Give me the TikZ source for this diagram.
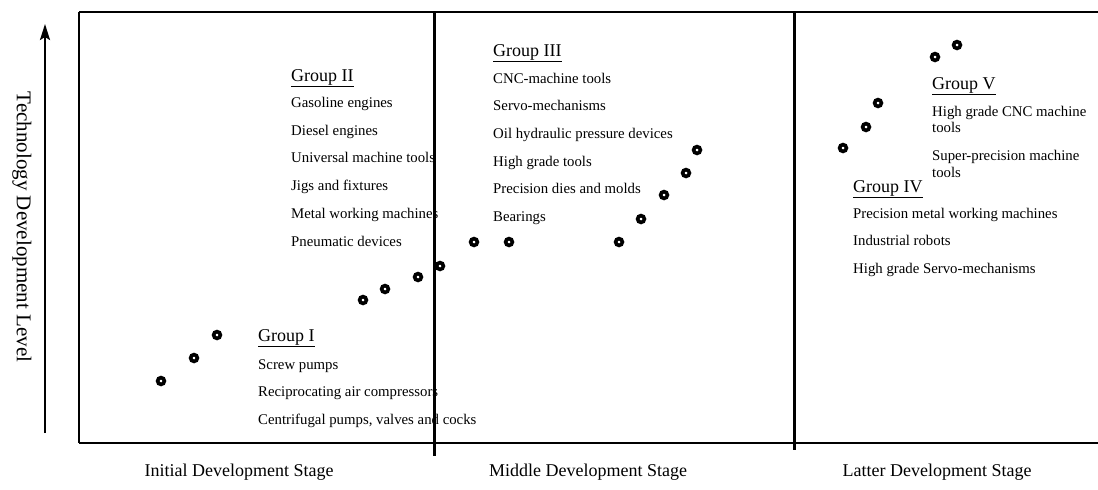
\documentclass[tikz,border=0pt]{standalone}
\usepackage{fontspec}
\setmainfont{Liberation Serif}
\usetikzlibrary{arrows.meta}
\begin{document}
\begin{tikzpicture}[x=1pt,y=-1pt,
  dot/.style={circle,draw=black,fill=white,line width=3.6pt,minimum size=6.8pt,inner sep=0pt},
  item/.style={anchor=base west,inner sep=0pt,font=\fontsize{14.8}{16}\selectfont},
  head/.style={anchor=base west,inner sep=0pt,font=\fontsize{18}{20}\selectfont},
  stage/.style={anchor=base,inner sep=0pt,font=\fontsize{18}{20}\selectfont},
  axislabel/.style={inner sep=0pt,rotate=-90,font=\fontsize{21}{24}\selectfont},
  frametop/.style={line width=1.2pt},
  frameleft/.style={line width=2.5pt},
  divider/.style={line width=3pt},
  axisarrow/.style={line width=2.2pt,-{Stealth[length=16pt,width=10pt,inset=3pt]}}]
\useasboundingbox (0,0) rectangle (1098,490);

% Group I
\node[head] (g1h) at (258,341) {\underline{Group I}};
\node[item] (g1a) at (258,369) {Screw pumps};
\node[item] (g1b) at (258,396) {Reciprocating air compressors};
\node[item] (g1c) at (258,424) {Centrifugal pumps, valves and cocks};

% Group II
\node[head] (g2h) at (291,81) {\underline{Group II}};
\node[item] (g2a) at (291,107.5) {Gasoline engines};
\node[item] (g2b) at (291,135.2) {Diesel engines};
\node[item] (g2c) at (291,162.9) {Universal machine tools};
\node[item] (g2d) at (291,190.6) {Jigs and fixtures};
\node[item] (g2e) at (291,218.3) {Metal working machines};
\node[item] (g2f) at (291,246) {Pneumatic devices};

% Group III
\node[head] (g3h) at (493,56) {\underline{Group III}};
\node[item] (g3a) at (493,83) {CNC-machine tools};
\node[item] (g3b) at (493,110.7) {Servo-mechanisms};
\node[item] (g3c) at (493,138.4) {Oil hydraulic pressure devices};
\node[item] (g3d) at (493,166.1) {High grade tools};
\node[item] (g3e) at (493,193.8) {Precision dies and molds};
\node[item] (g3f) at (493,221.5) {Bearings};

% Group IV
\node[head] (g4h) at (853,192) {\underline{Group IV}};
\node[item] (g4a) at (853,218) {Precision metal working machines};
\node[item] (g4b) at (853,245.5) {Industrial robots};
\node[item] (g4c) at (853,273) {High grade Servo-mechanisms};

% Group V
\node[head] (g5h) at (932,89) {\underline{Group V}};
\node[item] (g5a) at (932,116) {High grade CNC machine};
\node[item] (g5b) at (932,132) {tools};
\node[item] (g5c) at (932,160) {Super-precision machine};
\node[item] (g5d) at (932,177) {tools};

% frame and dividers
\coordinate (tl) at (79,12);
\coordinate (tr) at (1098,12);
\coordinate (bl) at (79,443);
\coordinate (br) at (1098,443);
\coordinate (d1t) at (434,12);
\coordinate (d1b) at (434,456);
\coordinate (d2t) at (794,12);
\coordinate (d2b) at (794,450);
\draw[frametop] (tl) -- (tr);
\draw[frametop] (bl) -- (br);
\draw[frameleft] (tl) -- (bl);
\draw[divider] (d1t) -- (d1b);
\draw[divider] (d2t) -- (d2b);

% axis
\coordinate (ya) at (45,433);
\coordinate (yb) at (45,24);
\draw[axisarrow] (ya) -- (yb);
\node[axislabel] (ylab) at (22,227) {Technology Development Level};

% stages
\node[stage] (s1) at (239,476) {Initial Development Stage};
\node[stage] (s2) at (588,476) {Middle Development Stage};
\node[stage] (s3) at (937,476) {Latter Development Stage};

% dots
\node[dot] (p1) at (161,381) {};
\node[dot] (p2) at (194,358) {};
\node[dot] (p3) at (217,335) {};
\node[dot] (p4) at (363,300) {};
\node[dot] (p5) at (385,289) {};
\node[dot] (p6) at (418,277) {};
\node[dot] (p7) at (440,266) {};
\node[dot] (p8) at (474,242) {};
\node[dot] (p9) at (509,242) {};
\node[dot] (p10) at (619,242) {};
\node[dot] (p11) at (641,219) {};
\node[dot] (p12) at (664,195) {};
\node[dot] (p13) at (686,173) {};
\node[dot] (p14) at (697,150) {};
\node[dot] (p15) at (843,148) {};
\node[dot] (p16) at (866,127) {};
\node[dot] (p17) at (878,103) {};
\node[dot] (p18) at (935,57) {};
\node[dot] (p19) at (957,45) {};
\end{tikzpicture}
\end{document}
